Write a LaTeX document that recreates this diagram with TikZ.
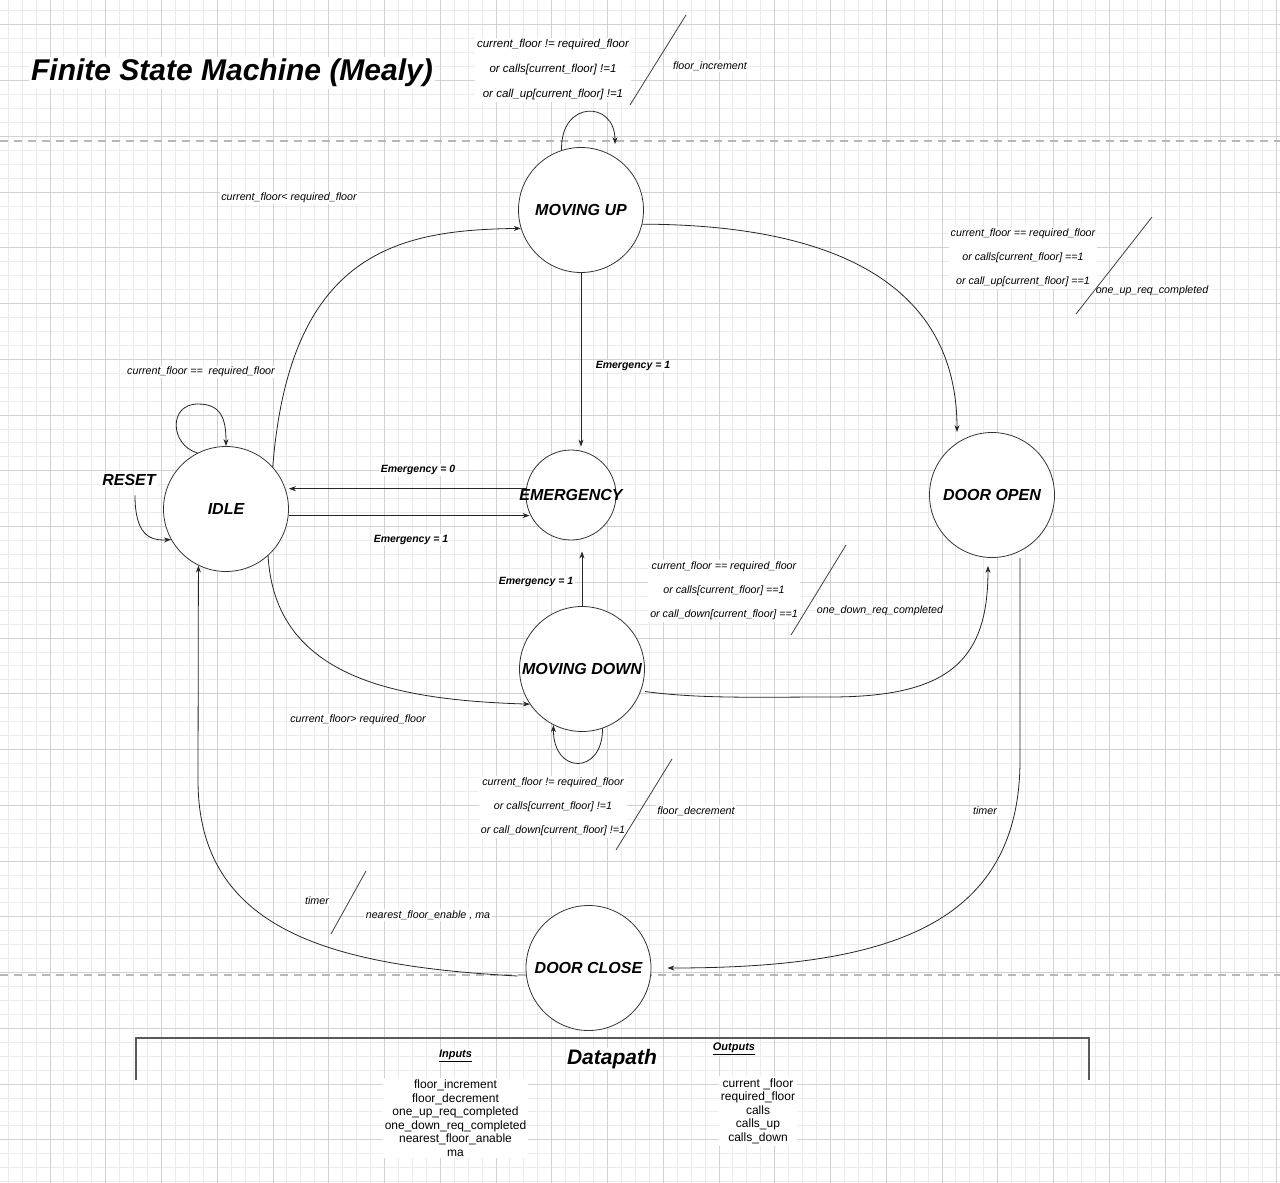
\documentclass[tikz,border=0pt]{standalone}
\usepackage{fontspec}
\setmainfont{Liberation Sans}
\usetikzlibrary{arrows.meta,calc}
\newcommand{\lblfont}{\fontsize{10.7}{12}\selectfont\itshape}
\newcommand{\emfont}{\fontsize{10.5}{12}\selectfont\bfseries\itshape}
\newcommand{\stfont}{\fontsize{16}{19}\selectfont\bfseries\itshape}
\newcommand{\blkfont}{\fontsize{10.7}{23.8}\selectfont\itshape}
\newcommand{\blkbigfont}{\fontsize{11.5}{25}\selectfont\itshape}
\newcommand{\listfont}{\fontsize{12}{13.5}\selectfont}
\begin{document}
\begin{tikzpicture}[x=1pt,y=-1pt,
 minorgrid/.style={draw=black!8, line width=0.9pt},
 majorgrid/.style={draw=black!18, line width=0.9pt},
 pagebreak/.style={draw=black!28, line width=1.2pt, dash pattern=on 8pt off 6pt},
 state/.style={circle, draw=black!80, line width=0.8pt, fill=white, inner sep=0pt, minimum size=125pt},
 stlabel/.style={font=\stfont, inner sep=0pt},
 edge/.style={draw=black!85, line width=0.8pt, -{Stealth[length=7pt,width=5pt]}},
 lbl/.style={font=\lblfont, fill=white, inner sep=1.5pt},
 emlbl/.style={font=\emfont, fill=white, inner sep=1.5pt},
 blk/.style={font=\blkfont, fill=white, align=center, inner sep=2pt},
 slash/.style={draw=black!75, line width=0.8pt},
 bracket/.style={draw=black!65, line width=1.2pt},
]
\useasboundingbox (0,0) rectangle (1280,1183);
\fill[white] (0,0) rectangle (1280,1183);
% grid
\foreach \i in {-3,...,88} \draw[minorgrid] ({50+\i*13.9375},0) -- ({50+\i*13.9375},1183);
\foreach \j in {-1,...,83} \draw[minorgrid] (0,{24.8+\j*13.9375}) -- (1280,{24.8+\j*13.9375});
\foreach \i in {0,...,22} \draw[majorgrid] ({50+\i*55.75},0) -- ({50+\i*55.75},1183);
\foreach \j in {0,...,20} \draw[majorgrid] (0,{24.8+\j*55.75}) -- (1280,{24.8+\j*55.75});
\draw[pagebreak] (0,141) -- (1280,141);
\draw[pagebreak] (0,975) -- (1280,975);

% title
\node[fill=white, inner sep=2pt, font=\fontsize{30}{34}\selectfont\bfseries\itshape] (title) at (232,73) {Finite State Machine (Mealy)};

% states
\node[state, label={[stlabel]center:MOVING UP}] (mup) at (581,210) {};
\node[state, label={[stlabel]center:IDLE}] (idle) at (226,509) {};
\node[state, minimum size=90pt, label={[stlabel]center:EMERGENCY}] (emg) at (571,495) {};
\node[state, label={[stlabel]center:DOOR OPEN}] (dopen) at (992,495) {};
\node[state, label={[stlabel]center:MOVING DOWN}] (mdown) at (582,669) {};
\node[state, label={[stlabel]center:DOOR CLOSE}] (dclose) at (588.5,968) {};
\node[font=\stfont, fill=white, inner sep=1.5pt] (reset) at (129,480) {RESET};

% edges
\draw[edge] (mup.108) .. controls (560,100) and (615,100) .. ($(mup.north)+(34,-3)$);
\draw[edge] (idle.117) .. controls (170,445) and (168,404) .. (198,404) .. controls (222,404) and (226,420) .. (idle.north);
\draw[edge] ($(reset.south)+(6,8)$) .. controls (135,535) and (150,541) .. (idle.209);
\draw[edge] (idle.42) .. controls (290,250) and (400,230) .. (mup.197);
\draw[edge] (idle.-48) .. controls (275,680) and (400,700) .. (mdown.214);
\draw[edge] (emg.172) -- (emg.172 -| idle.east);
\draw[edge] (idle.-6) -- ($(idle.-6 -| emg.west)+(4,0)$);
\draw[edge] (mup.south) -- ($(mup.south |- emg.north)+(0,-3)$);
\draw[edge] (mdown.north) -- ($(mdown.north |- emg.south)+(0,11)$);
\draw[edge] (mup.-13) .. controls (900,225) and (957,330) .. ($(dopen.north)+(-35,0)$);
\draw[edge] ($(mdown.-20)+(4,1)$) .. controls (700,699) and (760,697) .. (830,697) .. controls (950,697) and (988,660) .. ($(dopen.south)+(-4,8)$);
\draw[edge] ($(dopen.south)+(28,0)$) -- (1020,760) .. controls (1020,930) and (880,968) .. ($(dclose.east)+(16,0)$);
\draw[edge] ($(dclose.west)+(-8,8)$) .. controls (330,966) and (198,930) .. (198,780) -- (idle.244);
\draw[edge] (mdown.-71) .. controls (603,775) and (553,775) .. (mdown.243);

% labels
\node[blk, font=\blkbigfont] (b1) at (553,70) {current\_floor != required\_floor\\or calls[current\_floor] !=1\\or call\_up[current\_floor] !=1};
\node[lbl] (l1) at (710,66) {floor\_increment};
\node[lbl] (l2) at (289,198) {current\_floor< required\_floor};
\node[lbl] (l3) at (201,372) {current\_floor ==\ \ required\_floor};
\node[emlbl] (l4) at (633,366) {Emergency = 1};
\node[blk] (b2) at (1023,258) {current\_floor == required\_floor\\or calls[current\_floor] ==1\\or call\_up[current\_floor] ==1};
\node[lbl] (l5) at (1152,291) {one\_up\_req\_completed};
\node[emlbl] (l6) at (418,470) {Emergency = 0};
\node[emlbl] (l7) at (411,540) {Emergency = 1};
\node[emlbl] (l8) at (536,582) {Emergency = 1};
\node[blk] (b3) at (724,591) {current\_floor == required\_floor\\or calls[current\_floor] ==1\\or call\_down[current\_floor] ==1};
\node[lbl] (l9) at (880,611) {one\_down\_req\_completed};
\node[lbl] (l10) at (358,720) {current\_floor> required\_floor};
\node[blk] (b4) at (553,807) {current\_floor != required\_floor\\or calls[current\_floor] !=1\\or call\_down[current\_floor] !=1};
\node[lbl] (l11) at (696,811) {floor\_decrement};
\node[lbl] (l12) at (985,811) {timer};
\node[lbl] (l13) at (317,901) {timer};
\node[lbl] (l14) at (428,915) {nearest\_floor\_enable , ma};

% slashes
\draw[slash] (686,15) -- (630,105);
\draw[slash] (1152,217) -- (1076,314);
\draw[slash] (846,545) -- (791,635);
\draw[slash] (672,759) -- (616,850);
\draw[slash] (366,871) -- (331,934);

% datapath
\draw[bracket] (136,1080) -- (136,1038) -- (1089,1038) -- (1089,1080);
\node[fill=white, inner sep=1.5pt, font=\fontsize{21}{24}\selectfont\bfseries\itshape] (dp) at (612,1059) {Datapath};
\node[fill=white, inner sep=1.5pt, font=\fontsize{11}{13}\selectfont\bfseries\itshape] (inh) at (455.5,1056) {\underline{Inputs}};
\node[fill=white, inner sep=1.5pt, font=\fontsize{11}{13}\selectfont\bfseries\itshape] (outh) at (734,1049) {\underline{Outputs}};
\node[fill=white, inner sep=2pt, align=center, font=\listfont] (inl) at (455.5,1118) {floor\_increment\\floor\_decrement\\one\_up\_req\_completed\\one\_down\_req\_completed\\nearest\_floor\_anable\\ma};
\node[fill=white, inner sep=2pt, align=center, font=\listfont] (outl) at (758,1111) {current \_floor\\required\_floor\\calls\\calls\_up\\calls\_down};
\end{tikzpicture}
\end{document}
